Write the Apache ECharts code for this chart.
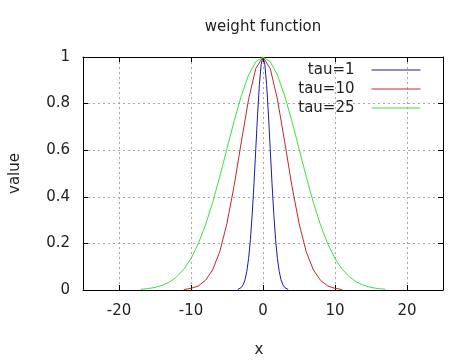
<!DOCTYPE html>
<html>
<head>
<meta charset="utf-8">
<script src="https://cdn.jsdelivr.net/npm/echarts@6/dist/echarts.min.js"></script>
<style>html,body{margin:0;padding:0;background:#fff}#c{width:469px;height:363px}</style>
</head>
<body>
<div id="c"></div>
<script>
// Tick labels
var xTicks = [-20, -10, 0, 10, 20];
var yTicks = [0, 0.2, 0.4, 0.6, 0.8, 1];
// Series names
var seriesNames = ['tau=1', 'tau=10', 'tau=25'];
// tau=1
var xTau1 = [-3.5, -3.25, -3, -2.75, -2.5, -2.25, -2, -1.75, -1.5, -1.25, -1, -0.75, -0.5, -0.25, 0,
             0.25, 0.5, 0.75, 1, 1.25, 1.5, 1.75, 2, 2.25, 2.5, 2.75, 3, 3.25, 3.5];
var yTau1 = [0.002, 0.005, 0.011, 0.023, 0.044, 0.080, 0.135, 0.216, 0.325, 0.458, 0.607, 0.755, 0.882, 0.969, 1,
             0.969, 0.882, 0.755, 0.607, 0.458, 0.325, 0.216, 0.135, 0.080, 0.044, 0.023, 0.011, 0.005, 0.002];
// tau=10
var xTau10 = [-11, -10, -9, -8, -7, -6, -5, -4, -3, -2, -1, 0, 1, 2, 3, 4, 5, 6, 7, 8, 9, 10, 11];
var yTau10 = [0.002, 0.007, 0.017, 0.041, 0.086, 0.165, 0.287, 0.449, 0.638, 0.819, 0.951, 1,
              0.951, 0.819, 0.638, 0.449, 0.287, 0.165, 0.086, 0.041, 0.017, 0.007, 0.002];
// tau=25
var xTau25 = [-17, -16, -15, -14, -13, -12, -11, -10, -9, -8, -7, -6, -5, -4, -3, -2, -1, 0,
              1, 2, 3, 4, 5, 6, 7, 8, 9, 10, 11, 12, 13, 14, 15, 16, 17];
var yTau25 = [0.003, 0.006, 0.011, 0.020, 0.034, 0.056, 0.089, 0.135, 0.198, 0.278, 0.375, 0.487, 0.607, 0.726, 0.835, 0.923, 0.980, 1,
              0.980, 0.923, 0.835, 0.726, 0.607, 0.487, 0.375, 0.278, 0.198, 0.135, 0.089, 0.056, 0.034, 0.020, 0.011, 0.006, 0.003];

function zip(xs, ys) { return xs.map(function (x, i) { return [x, ys[i]]; }); }

var FONT = 'DejaVu Sans';
var FS = 15;
var TXT = '#222';
var colors = ['#1a1aa8', '#c02828', '#3ee03e'];
var gridLine = { show: true, lineStyle: { color: '#a8a8a8', type: [2, 3], width: 1 } };

var chart = echarts.init(document.getElementById('c'), null, { renderer: 'canvas' });
function legendAt(i, top) {
  return {
    show: true, type: 'plain',
    data: [seriesNames[i]],
    orient: 'horizontal', align: 'right',
    left: 'auto', right: 48, top: top, bottom: 'auto', padding: 0,
    itemWidth: 49, itemHeight: 14,
    itemStyle: { opacity: 0, borderWidth: 0 },
    lineStyle: { color: colors[i], width: 1 },
    textStyle: { fontFamily: FONT, fontSize: FS, color: TXT, padding: [0, 12, 0, 0] },
    selectedMode: false
  };
}
chart.setOption({
  animation: false,
  backgroundColor: '#fff',
  title: {
    text: 'weight function', left: 258, top: 15, textAlign: 'center',
    textStyle: { fontFamily: FONT, fontSize: FS, fontWeight: 'normal', color: TXT }
  },
  legend: [legendAt(0, 62.5), legendAt(1, 81.5), legendAt(2, 100.5)],
  grid: { left: 80, right: 26, top: 57, bottom: 66, containLabel: false },
  xAxis: [{
    type: 'value', min: -25, max: 25, position: 'bottom',
    name: 'x', nameLocation: 'middle', nameGap: 53,
    nameTextStyle: { fontFamily: FONT, fontSize: FS, color: TXT, padding: [0, 8, 0, 0] },
    axisLine: { show: true, onZero: false, lineStyle: { color: '#000', width: 1 } },
    axisTick: { show: true, inside: true, length: 5, customValues: xTicks, lineStyle: { color: '#000' } },
    axisLabel: { customValues: xTicks, margin: 14, fontFamily: FONT, fontSize: FS, color: TXT },
    splitLine: gridLine
  }, {
    type: 'value', min: -25, max: 25, position: 'top',
    axisLine: { show: true, onZero: false, lineStyle: { color: '#000', width: 1 } },
    axisTick: { show: true, inside: true, length: 5, customValues: xTicks, lineStyle: { color: '#000' } },
    axisLabel: { show: false }, splitLine: { show: false }
  }],
  yAxis: [{
    type: 'value', min: 0, max: 1, interval: 0.2, position: 'left',
    name: 'value', nameLocation: 'middle', nameGap: 60, nameRotate: 90,
    nameTextStyle: { fontFamily: FONT, fontSize: FS, color: TXT },
    axisLine: { show: true, onZero: false, lineStyle: { color: '#000', width: 1 } },
    axisTick: { show: true, inside: true, length: 5, lineStyle: { color: '#000' } },
    axisLabel: { margin: 13, fontFamily: FONT, fontSize: FS, color: TXT,
      formatter: function (v) { return String(yTicks[Math.round(v / 0.2)]); } },
    splitLine: gridLine
  }, {
    type: 'value', min: 0, max: 1, interval: 0.2, position: 'right',
    axisLine: { show: true, onZero: false, lineStyle: { color: '#000', width: 1 } },
    axisTick: { show: true, inside: true, length: 5, lineStyle: { color: '#000' } },
    axisLabel: { show: false }, splitLine: { show: false }
  }],
  series: [
    { name: seriesNames[0], type: 'line', data: zip(xTau1, yTau1), showSymbol: false, symbol: 'none',
      lineStyle: { color: colors[0], width: 1 }, itemStyle: { color: colors[0] }, z: 3 },
    { name: seriesNames[1], type: 'line', data: zip(xTau10, yTau10), showSymbol: false, symbol: 'none',
      lineStyle: { color: colors[1], width: 1 }, itemStyle: { color: colors[1] }, z: 3 },
    { name: seriesNames[2], type: 'line', data: zip(xTau25, yTau25), showSymbol: false, symbol: 'none',
      lineStyle: { color: colors[2], width: 1 }, itemStyle: { color: colors[2] }, z: 3 }
  ]
});
</script>
</body>
</html>
